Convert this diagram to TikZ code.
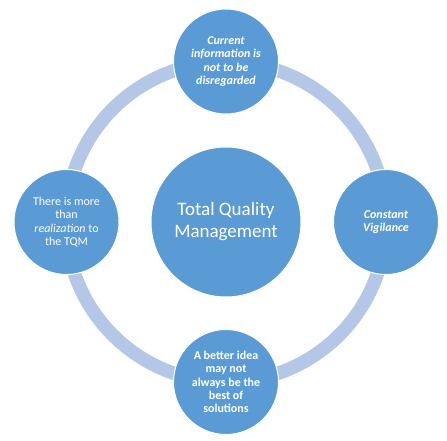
\documentclass[tikz,border=0pt]{standalone}
\usepackage{fontspec}
\setmainfont{Carlito}
\definecolor{tqmblue}{RGB}{91,155,213}
\definecolor{ringblue}{RGB}{180,199,231}
\tikzset{
  hub/.style={circle,fill=tqmblue,draw=white,line width=1pt,text=white,
    align=center,minimum size=150pt,inner sep=0pt,font=\fontsize{19}{22}\selectfont},
  spoke/.style={circle,fill=tqmblue,draw=white,line width=1pt,text=white,
    align=center,minimum size=105pt,inner sep=0pt,font=\fontsize{12}{13.3}\selectfont}
}
\begin{document}
\begin{tikzpicture}[x=1pt,y=1pt]
        \useasboundingbox (0,0) rectangle (447,440);
        \coordinate (O) at (226,218);
        \draw[ringblue,line width=13.5pt] (O) circle (160);
        \node[hub] (tqm) at (O) {Total Quality\\Management};
        \node[spoke] (top) at (226,378.5)
          {\bfseries\itshape Current\\\bfseries\itshape information is\\\bfseries\itshape not to be\\\bfseries\itshape disregarded};
        \node[spoke] (right) at (386,218)
          {\bfseries\itshape Constant\\\bfseries\itshape Vigilance};
        \node[spoke] (bottom) at (226,58)
          {\bfseries A better idea\\\bfseries may not\\\bfseries always be the\\\bfseries best of\\\bfseries solutions};
        \node[spoke] (left) at (66.5,218)
          {There is more\\than\\\textit{realization} to\\the TQM};
    \end{tikzpicture}
\end{document}
